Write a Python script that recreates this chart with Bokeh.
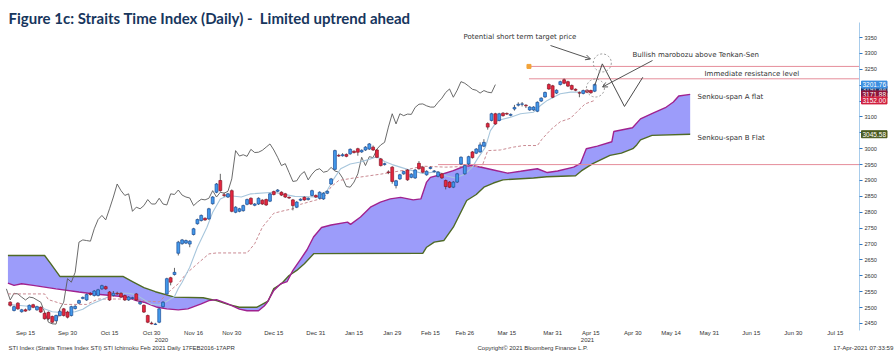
from bokeh.plotting import figure
from bokeh.models import Range1d, FixedTicker, Label, Arrow, OpenHead, ColumnDataSource
from bokeh.embed import file_html
from bokeh.resources import INLINE

# ---------------- data ----------------
# trading-day index: 0 = 15 Sep 2020, 149 = 16 Apr 2021
day = list(range(-4, 150))
opens = [2517, 2491, 2514, 2487, 2493, 2493, 2509, 2493, 2501, 2482,
         2485, 2472, 2459, 2475, 2496, 2486, 2475, 2497, 2514, 2529,
         2524, 2545, 2538, 2538, 2559, 2566, 2549, 2538, 2545, 2545,
         2538, 2524, 2529, 2543, 2512, 2507, 2475, 2451, 2447, 2454,
         2503, 2543, 2594, 2604, 2671, 2701, 2703, 2700, 2730, 2764,
         2774, 2781, 2779, 2827, 2863, 2900, 2855, 2848, 2868, 2800,
         2803, 2805, 2825, 2844, 2822, 2826, 2838, 2840, 2835, 2865,
         2866, 2863, 2858, 2847, 2839, 2816, 2838, 2847, 2840, 2853,
         2853, 2844, 2842, 2860, 2889, 2935, 2979, 2978, 2982, 2984,
         2992, 3000, 2990, 2996, 2999, 3005, 2996, 2968, 2950, 2927,
         2942, 2884, 2905, 2921, 2933, 2910, 2908, 2954, 2942, 2918,
         2938, 2928, 2913, 2921, 2900, 2895, 2879, 2895, 2952, 2921,
         2952, 2990, 2986, 2990, 3008, 3079, 3089, 3110, 3089, 3112,
         3111, 3105, 3125, 3137, 3140, 3137, 3122, 3122, 3118, 3150,
         3163, 3202, 3198, 3175, 3202, 3217, 3211, 3199, 3187, 3176,
         3174, 3184, 3183, 3181]
highs = [2520, 2506, 2517, 2496, 2497, 2510, 2512, 2506, 2504, 2485,
         2488, 2475, 2478, 2492, 2499, 2490, 2506, 2508, 2525, 2535,
         2544, 2548, 2555, 2559, 2572, 2569, 2552, 2552, 2550, 2548,
         2541, 2536, 2534, 2546, 2520, 2510, 2478, 2456, 2452, 2499,
         2520, 2594, 2597, 2625, 2710, 2716, 2714, 2712, 2751, 2780,
         2793, 2784, 2814, 2851, 2892, 2921, 2862, 2861, 2872, 2819,
         2814, 2824, 2843, 2847, 2829, 2847, 2841, 2843, 2861, 2868,
         2873, 2866, 2861, 2850, 2842, 2835, 2844, 2850, 2847, 2871,
         2856, 2866, 2863, 2869, 2908, 2997, 2984, 2986, 2985, 3001,
         2995, 3003, 2998, 3008, 3018, 3010, 2999, 2971, 2956, 2932,
         2945, 2902, 2921, 2931, 2936, 2923, 2936, 2961, 2945, 2932,
         2944, 2933, 2929, 2924, 2903, 2898, 2898, 2924, 2976, 2950,
         2978, 2993, 3002, 3020, 3030, 3083, 3113, 3113, 3113, 3115,
         3114, 3111, 3138, 3146, 3147, 3140, 3134, 3134, 3149, 3162,
         3180, 3206, 3201, 3187, 3214, 3221, 3214, 3202, 3190, 3180,
         3186, 3187, 3186, 3205]
lows = [2503, 2488, 2493, 2484, 2487, 2490, 2498, 2490, 2483, 2462,
        2460, 2450, 2456, 2472, 2472, 2466, 2472, 2494, 2511, 2526,
        2521, 2538, 2535, 2535, 2556, 2556, 2521, 2535, 2540, 2530,
        2521, 2521, 2527, 2521, 2508, 2483, 2451, 2447, 2445, 2451,
        2500, 2540, 2570, 2601, 2664, 2698, 2700, 2690, 2727, 2761,
        2771, 2773, 2776, 2824, 2860, 2865, 2848, 2845, 2800, 2797,
        2800, 2802, 2822, 2823, 2819, 2823, 2823, 2820, 2832, 2853,
        2863, 2851, 2845, 2842, 2806, 2813, 2835, 2836, 2837, 2850,
        2845, 2841, 2839, 2857, 2886, 2932, 2974, 2975, 2973, 2981,
        2985, 2978, 2987, 2993, 2996, 2993, 2970, 2944, 2947, 2920,
        2890, 2875, 2902, 2918, 2899, 2907, 2905, 2934, 2923, 2915,
        2935, 2925, 2910, 2905, 2872, 2876, 2876, 2892, 2949, 2918,
        2949, 2969, 2983, 2987, 3005, 3060, 3086, 3075, 3086, 3101,
        3106, 3102, 3120, 3133, 3133, 3128, 3119, 3119, 3115, 3147,
        3160, 3185, 3159, 3172, 3199, 3203, 3194, 3184, 3181, 3162,
        3171, 3175, 3173, 3178]
closes = [2507, 2503, 2496, 2493, 2489, 2507, 2501, 2503, 2486, 2465,
          2465, 2454, 2475, 2488, 2475, 2470, 2503, 2504, 2522, 2532,
          2541, 2541, 2552, 2556, 2569, 2559, 2524, 2545, 2543, 2533,
          2524, 2533, 2531, 2524, 2517, 2486, 2454, 2449, 2448, 2496,
          2517, 2591, 2580, 2611, 2706, 2713, 2711, 2709, 2748, 2777,
          2790, 2776, 2811, 2848, 2889, 2868, 2853, 2858, 2803, 2816,
          2811, 2821, 2840, 2826, 2826, 2844, 2826, 2823, 2858, 2856,
          2870, 2854, 2848, 2845, 2821, 2832, 2841, 2839, 2844, 2868,
          2848, 2863, 2860, 2866, 2905, 2994, 2977, 2981, 2976, 2998,
          2988, 2989, 2995, 3005, 3015, 2996, 2973, 2947, 2953, 2925,
          2897, 2899, 2918, 2928, 2902, 2920, 2933, 2937, 2926, 2929,
          2941, 2930, 2926, 2908, 2881, 2879, 2895, 2921, 2973, 2947,
          2975, 2972, 2999, 3012, 3020, 3068, 3110, 3078, 3110, 3104,
          3109, 3108, 3130, 3140, 3141, 3135, 3131, 3131, 3146, 3159,
          3177, 3188, 3162, 3184, 3211, 3206, 3197, 3187, 3184, 3175,
          3183, 3178, 3176, 3201.76]

chikou_shift = 26
chikou_first_day = 21

tenkan_day = [-4.6, 0, 4, 7, 10, 13, 15, 17, 19, 21, 24, 27, 29, 31, 33, 35, 37, 39, 40, 41,
              43, 45, 47.5, 49, 51, 53, 56.5, 59, 65, 67, 70.5, 76.5, 79, 80.7, 82.5, 85,
              87.7, 90.3, 92, 94, 96, 100, 104, 108, 110, 112.5, 115, 117, 118.3, 120.4,
              121.7, 123.6, 127, 129.6, 133, 134.8, 136.6, 138.2, 140, 142.7, 145.3, 149]
tenkan_val = [2510, 2505, 2500, 2487, 2484, 2487, 2495, 2510, 2520, 2530, 2545, 2545, 2540,
              2525, 2510, 2508, 2520, 2535, 2560, 2580, 2627, 2690, 2753, 2800, 2842, 2853,
              2848, 2858, 2863, 2858, 2850, 2848, 2869, 2905, 2937, 2952, 2958, 2968, 2975,
              2960, 2950, 2935, 2922, 2928, 2915, 2908, 2920, 2942, 2968, 3005, 3057, 3089,
              3099, 3110, 3115, 3136, 3152, 3162, 3173, 3178, 3178, 3183]

kijun_day = [-4.6, 5, 6, 10, 16, 19, 28, 32, 35, 38, 40, 42, 45, 48, 50, 58, 60, 62, 65, 68,
             70, 72, 75, 78, 80, 82, 86, 93, 99, 104, 110, 115, 119.5, 121, 124.3, 127.7,
             130.4, 134, 135.2, 137.5, 140, 142.7, 144.5, 146.5, 149]
kijun_val = [2543, 2543, 2525, 2510, 2510, 2527, 2527, 2520, 2518, 2555, 2575, 2606, 2638,
             2669, 2672, 2672, 2701, 2753, 2797, 2806, 2811, 2825, 2835, 2845, 2880, 2900,
             2908, 2920, 2932, 2945, 2942, 2944, 2944, 2994, 2996, 3005, 3010, 3010, 3030,
             3060, 3085, 3096, 3118, 3141, 3152]

span_a_day = [-4.6, -3, -1, 2, 8, 14, 18, 22.5, 26.5, 29, 31, 34.5, 37, 40, 42.5, 46, 48, 50,
              53, 56, 58, 61, 62.5, 63.3, 65, 66.8, 68.5, 70, 72, 73.7, 75.4, 77.5, 80, 84.3,
              85.1, 87.7, 90.3, 92.9, 95.5, 98.2, 101.5, 103.5, 105, 106, 108.6, 112, 114.7,
              117, 119.9, 122.5, 126.2, 129.6, 134, 136.6, 139.3, 143.5, 145.3, 146.8, 149.7,
              153.5, 154, 158.9, 161, 164.4, 167.5, 169.6, 171, 174]
span_a_val = [2577, 2570, 2575, 2570, 2559, 2549, 2543, 2538, 2533, 2522, 2517, 2501, 2496,
              2493, 2496, 2512, 2522, 2525, 2512, 2495, 2490, 2490, 2505, 2517, 2554, 2575,
              2582, 2617, 2652, 2682, 2722, 2752, 2760, 2769, 2762, 2785, 2816, 2832, 2842,
              2847, 2839, 2842, 2895, 2910, 2918, 2931, 2944, 2947, 2940, 2933, 2923, 2929,
              2937, 2925, 2930, 2942, 2954, 3000, 3008, 3022, 3054, 3066, 3094, 3113, 3129,
              3147, 3166, 3171]

span_b_day = [-4.6, 5, 6.5, 9, 25.5, 28, 31, 34, 39, 46.5, 50, 53, 56, 60.5, 63.5, 65, 67, 69,
              71, 73, 75.5, 104, 105, 107, 109.5, 112, 115.5, 118, 120, 122.5, 125, 133,
              136.5, 144, 145.5, 148.5, 153, 156, 159, 160, 161, 164, 174]
span_b_val = [2664, 2664, 2640, 2598, 2598, 2582, 2563, 2550, 2533, 2531, 2522, 2510, 2501,
              2501, 2520, 2560, 2575, 2601, 2617, 2638, 2670, 2671, 2690, 2706, 2711, 2753,
              2837, 2856, 2879, 2892, 2902, 2908, 2912, 2915, 2930, 2953, 2979, 2986, 3000,
              3012, 3028, 3042, 3045.58]

# annotation levels and projected path
target_level = 3259
target_start_day = 131.8
resistance_level = 3220
resistance_start_day = 131.8
support_level = 2950
support_start_day = 108
proj_day = [149, 151, 156.8, 161.6]
proj_price = [3199, 3267, 3133, 3225]
circle_day = [151, 149.2]
circle_price = [3270, 3191]

tick_days = [0, 11, 22, 33, 44, 54, 65, 76, 86, 96, 106, 115, 126, 138, 148, 159, 169,
             179, 190, 201, 212]
tick_labels = ["Sep 15", "Sep 30", "Oct 15", "Oct 30", "Nov 16", "Nov 30", "Dec 15",
               "Dec 31", "Jan 15", "Jan 29", "Feb 15", "Feb 26", "Mar 15", "Mar 31",
               "Apr 15", "Apr 30", "May 14", "May 31", "Jun 15", "Jun 30", "Jul 15"]
price_ticks = list(range(2450, 3351, 50))

# ---------------- figure ----------------
W, H = 896, 360
X0, X1 = (0 - 25) / 3.82, (W - 25) / 3.82
Y1, Y0 = 3350 + 37 * 3.147, 3350 - (H - 37) * 3.147
p = figure(width=W, height=H, x_range=Range1d(X0, X1), y_range=Range1d(Y0, Y1),
           output_backend="svg", toolbar_location=None, title=None,
           y_axis_location="right", min_border_left=0, min_border_right=0,
           min_border_top=0, min_border_bottom=0)
p.outline_line_color = None
p.xgrid.visible = False
p.ygrid.visible = False
p.background_fill_color = "white"


def day_at(px):
    return X0 + px * (X1 - X0) / W


def price_at(py):
    return Y1 - py * (Y1 - Y0) / H


AXIS_DAY = day_at(859)

# cloud
cloud_x = span_a_day + span_b_day[::-1]
cloud_y = span_a_val + span_b_val[::-1]
p.patch(cloud_x, cloud_y, fill_color="#9C9CFA", line_color=None)
p.line(span_b_day, span_b_val, line_color="#4F6A26", line_width=1.4)
p.line(span_a_day, span_a_val, line_color="#A0228F", line_width=1.4)

# chikou (closes plotted 26 days back)
k0 = day.index(chikou_first_day)
p.line([d - chikou_shift for d in day[k0:]], closes[k0:], line_color="#5A5A5A",
       line_width=0.9)
# kijun / tenkan
p.line(kijun_day, kijun_val, line_color="#C98A92", line_width=1, line_dash="3 2")
p.line(tenkan_day, tenkan_val, line_color="#A7C6DC", line_width=1.1)

# level lines
p.segment(x0=[target_start_day, resistance_start_day, support_start_day],
          y0=[target_level, resistance_level, support_level],
          x1=[AXIS_DAY] * 3, y1=[target_level, resistance_level, support_level],
          line_color="#E58D9A", line_width=1)
p.scatter([target_start_day], [target_level], marker="square", size=4,
          fill_color="#F2A33A", line_color="#F2A33A")

# candles
up = [k for k in range(len(day)) if closes[k] >= opens[k]]
dn = [k for k in range(len(day)) if closes[k] < opens[k]]
p.segment(x0=day, y0=lows, x1=day, y1=highs, line_color="#3C3C3C", line_width=0.8)
src_up = ColumnDataSource(dict(x=[day[k] for k in up], top=[closes[k] for k in up],
                               bottom=[opens[k] for k in up]))
src_dn = ColumnDataSource(dict(x=[day[k] for k in dn], top=[opens[k] for k in dn],
                               bottom=[closes[k] for k in dn]))
p.vbar(x="x", top="top", bottom="bottom", width=0.75, source=src_up,
       fill_color="#4298EA", line_color="#1D4F9A", line_width=0.7)
p.vbar(x="x", top="top", bottom="bottom", width=0.75, source=src_dn,
       fill_color="#E4263F", line_color="#8E1527", line_width=0.7)

# projection zigzag and circles
p.line(proj_day, proj_price, line_color="#4A4A4A", line_width=1)
p.scatter(circle_day, circle_price, marker="circle", size=18, fill_color=None,
          line_color="#9A9A9A", line_dash="2 2", line_width=1)

# arrows
p.add_layout(Arrow(end=OpenHead(size=5, line_color="#555555", line_width=1),
                   x_start=day_at(550), y_start=price_at(45),
                   x_end=day_at(590), y_end=price_at(58.5),
                   line_color="#555555", line_width=1))
p.add_layout(Arrow(end=OpenHead(size=5, line_color="#555555", line_width=1),
                   x_start=day_at(652), y_start=price_at(60),
                   x_end=day_at(602), y_end=price_at(86.5),
                   line_color="#555555", line_width=1))

# axes (drawn at fixed positions inside the canvas)
xa = p.xaxis[0]
xa.fixed_location = price_at(326)
xa.ticker = FixedTicker(ticks=tick_days)
xa.major_label_overrides = {d: t for d, t in zip(tick_days, tick_labels)}
xa.axis_line_color = None
xa.major_tick_line_color = None
xa.minor_tick_line_color = None
xa.major_tick_out = 0
xa.major_tick_in = 0
xa.major_label_standoff = 3
xa.major_label_text_font = "Liberation Sans"
xa.major_label_text_font_size = "6px"
xa.major_label_text_color = "#333333"

ya = p.yaxis[0]
ya.fixed_location = AXIS_DAY
ya.bounds = (price_at(330), price_at(22))
ya.ticker = FixedTicker(ticks=price_ticks)
ya.axis_line_color = "#A8CCEB"
ya.major_tick_line_color = "#2F78C4"
ya.minor_tick_line_color = None
ya.major_tick_out = 3
ya.major_tick_in = 0
ya.major_label_standoff = 2
ya.major_label_text_font = "Liberation Sans"
ya.major_label_text_font_size = "5.6px"
ya.major_label_text_color = "#333333"

FONT = "Liberation Sans"
NOTE_FONT = "DejaVu Sans"


def add_text(px, py, text, size="7px", color="#333333", align="left", font=NOTE_FONT,
             style="normal"):
    p.add_layout(Label(x=day_at(px), y=price_at(py), text=text, text_font=font,
                       text_font_size=size, text_color=color, text_align=align,
                       text_baseline="middle", text_font_style=style))


# title
add_text(8, 17, "Figure 1c: Straits Time Index (Daily) -\u00a0 Limited uptrend ahead",
         size="15px", color="#17365D", font="Lato", style="bold")

# annotations
add_text(463, 36.7, "Potential short term target price")
add_text(632, 54, "Bullish marobozu above Tenkan-Sen")
add_text(704, 73.3, "Immediate resistance level")
add_text(697, 96, "Senkou-span A flat")
add_text(697, 137, "Senkou-span B Flat")

# year labels and footer
add_text(161, 339, "2020", size="6px", align="center", font=FONT)
add_text(587, 339, "2021", size="6px", align="center", font=FONT)
add_text(8, 347, "STI Index (Straits Times Index STI) STI Ichimoku Feb 2021  Daily 17FEB2016-17APR",
         size="6px", font=FONT)
add_text(477, 347, "Copyright\u00a9 2021 Bloomberg Finance L.P.", size="6px", font=FONT)
add_text(893, 347, "17-Apr-2021 07:33:59", size="6.2px", align="right", font=FONT)

# value tags on the price axis
tags = [(3186, "3191.44", "#1F3A6E"), (3201.76, "3201.76", "#3C8FE0"),
        (3171, "3171.88", "#8E1538"), (3152, "3152.00", "#D0213F"),
        (3045.58, "3045.58", "#4A5A1E")]
for val, txt, col in tags:
    p.add_layout(Label(x=day_at(861), y=val, text=txt, text_font=FONT,
                       text_font_size="6.5px", text_color="white",
                       text_align="left", text_baseline="middle",
                       background_fill_color=col, border_line_color=col,
                       padding=1))

open("out.html", "w").write(file_html(p, INLINE))
